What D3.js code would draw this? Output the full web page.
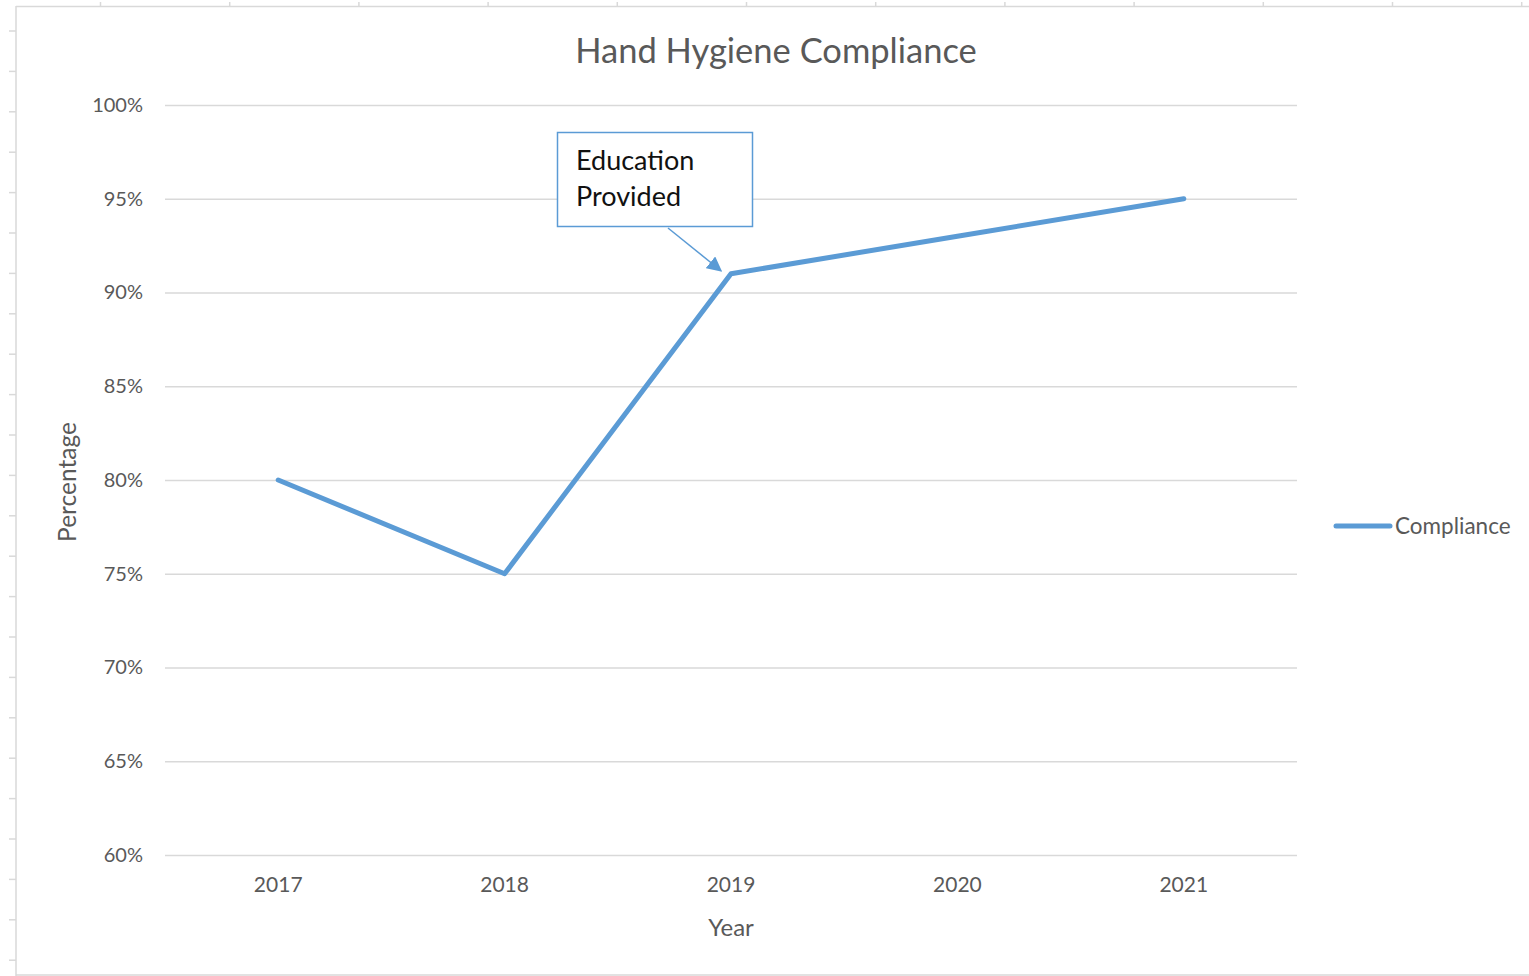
<!DOCTYPE html>
<html>
<head>
<meta charset="utf-8">
<script src="https://cdn.jsdelivr.net/npm/d3@7"></script>
<style>
	body { margin: 0; background: #fff; }
	svg text { font-family: Lato, "Open Sans", sans-serif; }
</style>
</head>
<body>
<div id="chart"></div>
<script>
var years = ["2017", "2018", "2019", "2020", "2021"];
var compliance = [0.80, 0.75, 0.91, 0.93, 0.95];
var yTicks = [0.60, 0.65, 0.70, 0.75, 0.80, 0.85, 0.90, 0.95, 1.00];
var seriesName = "Compliance";
var noteLines = ["Education", "Provided"];
var noteYear = "2019";

var width = 1529,
	height = 976;
var marginTop = 105,
	marginBottom = 121,
	marginLeft = 165,
	marginRight = 232;
var lineColor = "#5b9bd5";
var textColor = "#595959";

var svg = d3
	.select("#chart")
	.append("svg")
	.attr("width", width)
	.attr("height", height);

// spreadsheet frame round the chart object
var frame = svg.append("g").attr("stroke", "#d9d9d9").attr("stroke-width", 1.5);
frame.append("line").attr("x1", 16).attr("x2", width).attr("y1", 6.5).attr("y2", 6.5);
frame.append("line").attr("x1", 16).attr("x2", 16).attr("y1", 6).attr("y2", height);
frame.append("line").attr("x1", 16).attr("x2", width).attr("y1", 975).attr("y2", 975);
frame
	.selectAll(".ruler-top")
	.data(d3.range(12))
	.enter()
	.append("line")
	.attr("x1", (d) => 100.5 + d * 129.2)
	.attr("x2", (d) => 100.5 + d * 129.2)
	.attr("y1", 2)
	.attr("y2", 7);
frame
	.selectAll(".ruler-left")
	.data(d3.range(24))
	.enter()
	.append("line")
	.attr("x1", 9)
	.attr("x2", 16)
	.attr("y1", (d) => 31 + d * 40.4)
	.attr("y2", (d) => 31 + d * 40.4);

// scales
var x = d3
	.scaleBand()
	.domain(years)
	.range([marginLeft, width - marginRight]);
var cx = (d) => x(d) + x.bandwidth() / 2;
var y = d3
	.scaleLinear()
	.domain([0.6, 1.0])
	.range([height - marginBottom, marginTop]);

// gridlines + y labels
var yAxis = svg
	.append("g")
	.attr("transform", `translate(${marginLeft}, 0)`)
	.call(
		d3
			.axisLeft(y)
			.tickValues(yTicks)
			.tickFormat(d3.format(".0%"))
			.tickSize(-(width - marginLeft - marginRight))
			.tickPadding(22)
	);
yAxis.select(".domain").remove();
yAxis.selectAll(".tick line").attr("stroke", "#d9d9d9").attr("stroke-width", 1.5);
yAxis
	.selectAll(".tick text")
	.attr("fill", textColor)
	.style("font-size", "20px");

// x labels
var xAxis = svg
	.append("g")
	.attr("transform", `translate(0, ${height - marginBottom})`)
	.call(d3.axisBottom(x).tickSize(0).tickPadding(22));
xAxis.select(".domain").remove();
xAxis
	.selectAll(".tick text")
	.attr("fill", textColor)
	.style("font-size", "21px");

// title and axis titles
svg
	.append("text")
	.attr("x", 776)
	.attr("y", 63)
	.attr("text-anchor", "middle")
	.attr("fill", textColor)
	.style("font-size", "34.5px")
	.text("Hand Hygiene Compliance");
svg
	.append("text")
	.attr("x", cx("2019"))
	.attr("y", 936)
	.attr("text-anchor", "middle")
	.attr("fill", textColor)
	.style("font-size", "24px")
	.text("Year");
svg
	.append("text")
	.attr("transform", "translate(76, 482) rotate(-90)")
	.attr("text-anchor", "middle")
	.attr("fill", textColor)
	.style("font-size", "24.5px")
	.text("Percentage");

// the line
var data = years.map((d, i) => ({ year: d, value: compliance[i] }));
svg
	.append("path")
	.datum(data)
	.attr("fill", "none")
	.attr("stroke", lineColor)
	.attr("stroke-width", 5)
	.attr("stroke-linejoin", "round")
	.attr("stroke-linecap", "round")
	.attr(
		"d",
		d3
			.line()
			.x((d) => cx(d.year))
			.y((d) => y(d.value))
	);

// legend
var legend = svg.append("g").attr("transform", "translate(1336, 526)");
legend
	.append("line")
	.attr("x1", 0)
	.attr("x2", 54)
	.attr("stroke", lineColor)
	.attr("stroke-width", 5)
	.attr("stroke-linecap", "round");
legend
	.append("text")
	.attr("x", 59)
	.attr("y", 8)
	.attr("fill", textColor)
	.style("font-size", "22.5px")
	.text(seriesName);

// callout
svg
	.append("defs")
	.append("marker")
	.attr("id", "arrow")
	.attr("viewBox", "0 0 10 10")
	.attr("refX", 9)
	.attr("refY", 5)
	.attr("markerWidth", 10)
	.attr("markerHeight", 10)
	.attr("orient", "auto")
	.append("path")
	.attr("d", "M0,0 L10,5 L0,10 z")
	.attr("fill", lineColor);

var target = compliance[years.indexOf(noteYear)];
svg
	.append("line")
	.attr("x1", 668)
	.attr("y1", 228)
	.attr("x2", cx(noteYear) - 10)
	.attr("y2", y(target) - 3)
	.attr("stroke", lineColor)
	.attr("stroke-width", 1.5)
	.attr("marker-end", "url(#arrow)");

svg
	.append("rect")
	.attr("x", 557.5)
	.attr("y", 132.5)
	.attr("width", 195)
	.attr("height", 94)
	.attr("fill", "#fff")
	.attr("stroke", lineColor)
	.attr("stroke-width", 1.5);
svg
	.append("g")
	.selectAll("text")
	.data(noteLines)
	.enter()
	.append("text")
	.attr("x", 576)
	.attr("y", (d, i) => 170 + i * 36)
	.attr("fill", "#111")
	.style("font-size", "27px")
	.text((d) => d);
</script>
</body>
</html>
